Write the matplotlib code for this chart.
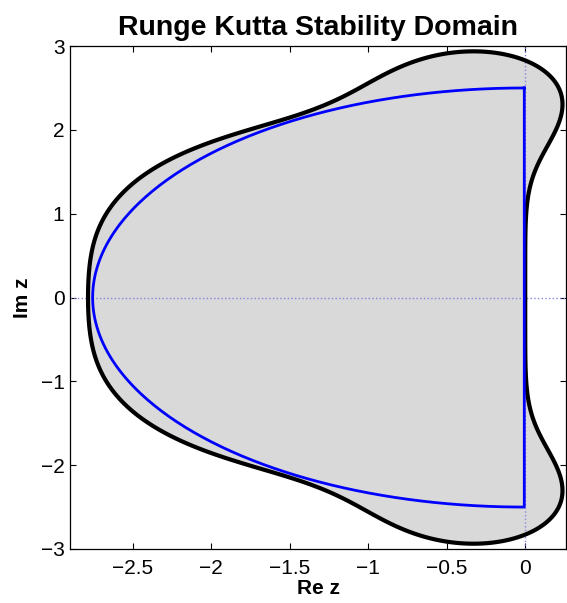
import numpy as np
import matplotlib
matplotlib.use("Agg")
import matplotlib.pyplot as plt

plt.rcParams['font.family'] = ['Liberation Sans', 'DejaVu Sans']

# stability polynomial R(z) = 1 + z + z^2/2 + z^3/6 + z^4/24 (classic RK4)
rk_coeffs = [1.0, 1.0, 1.0 / 2, 1.0 / 6, 1.0 / 24]

# blue half-ellipse (eigenvalue region), closed by a vertical segment
ell_re = 2.75
ell_im = 2.5
ell_x0 = -0.006

x_ticks = [-2.5, -2, -1.5, -1, -0.5, 0]
x_ticklabels = ["\u22122.5", "\u22122", "\u22121.5", "\u22121", "\u22120.5", "0"]
y_ticks = [-3, -2, -1, 0, 1, 2, 3]
xlim = (-2.9, 0.26)
ylim = (-3, 3)

fig = plt.figure(figsize=(5.67, 6.03), dpi=100)
ax = fig.add_axes([0.1235, 0.0896, 0.8748, 0.834])

# stability domain |R(z)| <= 1
xr = np.linspace(-3.1, 0.5, 500)
yi = np.linspace(-3.3, 3.3, 600)
X, Y = np.meshgrid(xr, yi)
Z = X + 1j * Y
R = np.zeros_like(Z)
for k, c in enumerate(rk_coeffs):
    R = R + c * Z**k
absR = np.abs(R)
ax.contourf(X, Y, absR, levels=[0, 1], colors=['#d9d9d9'])

# dotted axes
ax.axhline(0, color='#8585e6', ls=':', lw=1.0)
ax.axvline(0, color='#8585e6', ls=':', lw=1.0)

ax.contour(X, Y, absR, levels=[1], colors='k', linewidths=3.0)

t = np.linspace(np.pi / 2, 3 * np.pi / 2, 300)
ex = ell_x0 + ell_re * np.cos(t)
ey = ell_im * np.sin(t)
ex = np.concatenate([ex, [ex[0]]])
ey = np.concatenate([ey, [ey[0]]])
ax.plot(ex, ey, color='#0000ff', lw=2.0)

ax.set_xlim(*xlim)
ax.set_ylim(*ylim)
ax.set_xticks(x_ticks)
ax.set_xticklabels(x_ticklabels)
ax.set_yticks(y_ticks)
ax.tick_params(direction='in', length=4, width=0.8, labelsize=15,
               top=True, right=True)
ax.tick_params(axis='x', pad=7)
ax.tick_params(axis='y', pad=4)
for s in ax.spines.values():
    s.set_linewidth(0.9)

ax.set_title("Runge Kutta Stability Domain", fontsize=20.5, fontweight='bold', pad=8)
ax.set_xlabel("Re z", fontsize=15, fontweight='bold', labelpad=1)
ax.set_ylabel("Im z", fontsize=15, fontweight='bold', labelpad=6)

fig.savefig("out.png", dpi=100)
